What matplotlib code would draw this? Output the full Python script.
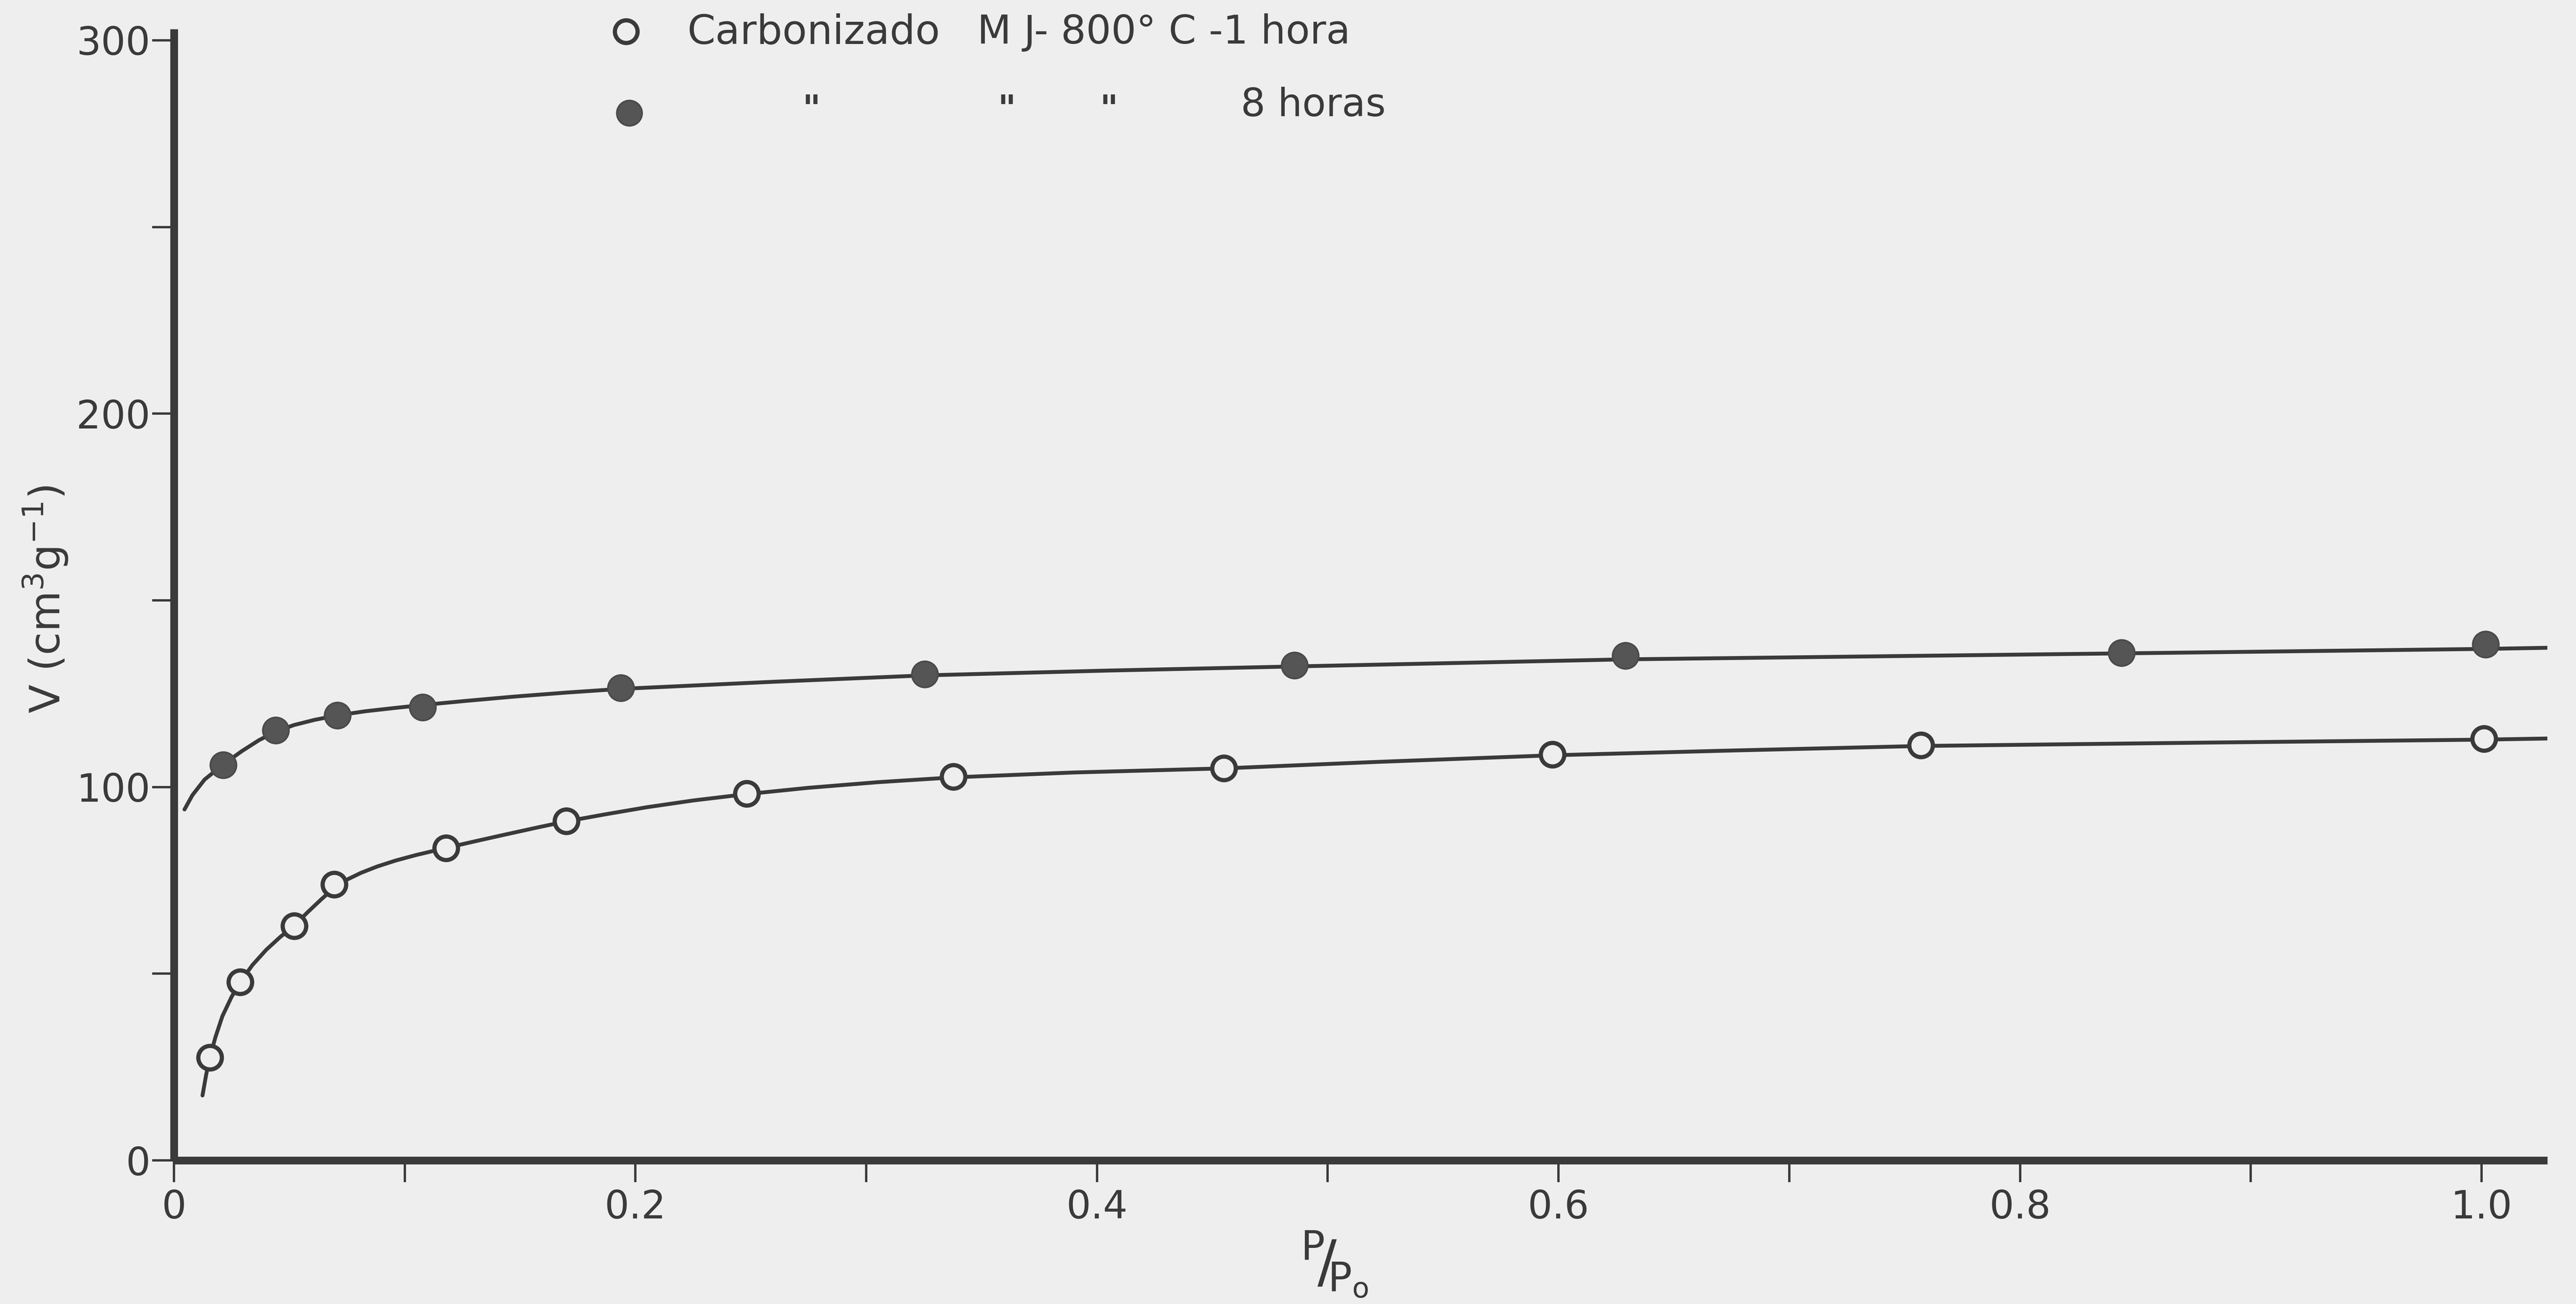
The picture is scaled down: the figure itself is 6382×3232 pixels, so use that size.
import matplotlib
matplotlib.use("Agg")
import matplotlib.pyplot as plt
from matplotlib.ticker import FixedLocator

# open circles: carbonizado MJ-800 C, 1 hora
open_x = [0.0156, 0.0288, 0.0521, 0.0695, 0.118, 0.170, 0.2483, 0.3377, 0.455, 0.5974, 0.757, 1.001]
open_y = [27.6, 47.8, 62.8, 73.9, 83.6, 90.9, 98.2, 102.8, 105.1, 108.7, 111.2, 112.9]

# filled circles: 8 horas
filled_x = [0.0213, 0.0441, 0.0709, 0.1077, 0.1937, 0.3254, 0.4855, 0.629, 0.8439, 1.0017]
filled_y = [105.9, 115.2, 119.2, 121.4, 126.6, 130.2, 132.6, 135.2, 135.9, 138.2]

# hand drawn curves
open_curve_x = [0.0124, 0.014, 0.0156, 0.018, 0.021, 0.025, 0.029, 0.034, 0.040, 0.046,
                0.052, 0.058, 0.064, 0.0695, 0.075, 0.081, 0.088, 0.096, 0.105, 0.118,
                0.130, 0.143, 0.157, 0.170, 0.187, 0.205, 0.225, 0.248, 0.275, 0.305,
                0.338, 0.39, 0.455, 0.52, 0.597, 0.676, 0.757, 0.88, 1.001, 1.0285]
open_curve_y = [17.4, 23.0, 27.6, 33.0, 38.6, 43.8, 48.0, 52.3, 56.4, 59.8,
                62.8, 66.5, 70.0, 73.0, 75.2, 77.0, 78.7, 80.3, 81.8, 83.7,
                85.4, 87.2, 89.1, 90.8, 92.7, 94.6, 96.4, 98.1, 99.8, 101.3,
                102.6, 103.9, 105.0, 106.7, 108.5, 109.8, 111.0, 111.9, 112.7, 113.0]

filled_curve_x = [0.0046, 0.008, 0.0133, 0.0213, 0.0294, 0.037, 0.0441, 0.052, 0.061, 0.0709,
                  0.083, 0.096, 0.11, 0.127, 0.147, 0.17, 0.194, 0.26, 0.325, 0.405,
                  0.4855, 0.629, 0.8439, 1.0017, 1.0285]
filled_curve_y = [94.0, 97.8, 102.0, 106.0, 109.6, 112.6, 114.8, 116.6, 118.0, 119.2,
                  120.3, 121.2, 122.1, 123.1, 124.2, 125.3, 126.3, 128.2, 129.9, 131.2,
                  132.3, 134.2, 135.8, 137.0, 137.3]

x_ticks = [0, 0.2, 0.4, 0.6, 0.8, 1.0]
x_tick_labels = ["0", "0.2", "0.4", "0.6", "0.8", "1.0"]
x_minor = [0.1, 0.3, 0.5, 0.7, 0.9]
y_ticks = [0, 100, 200, 300]
y_tick_labels = ["0", "100", "200", "300"]
y_minor = [50, 150, 250]

INK = "#3a3a3a"
PAPER = "#eeeeee"
FILL = "#555555"

plt.rcParams["font.family"] = ["DejaVu Sans"]
plt.rcParams["mathtext.default"] = "regular"

fig = plt.figure(figsize=(6382 / 300, 3232 / 300), dpi=300, facecolor=PAPER)
ax = fig.add_axes([0.0675, 0.1101, 0.9214, 0.8676], facecolor=PAPER)

ax.plot(open_curve_x, open_curve_y, color=INK, lw=2.3, solid_capstyle="round",
        solid_joinstyle="round", zorder=2)
ax.plot(filled_curve_x, filled_curve_y, color=INK, lw=2.3, solid_capstyle="round",
        solid_joinstyle="round", zorder=2)
ax.plot(open_x, open_y, "o", ms=14, mfc=PAPER, mec=INK, mew=2.5, ls="none", zorder=3)
ax.plot(filled_x, filled_y, "o", ms=15.5, mfc=FILL, mec="#4a4a4a", mew=1, ls="none", zorder=3)

ax.set_xlim(0, 1.0285)
ax.set_ylim(0, 303)

for side in ("top", "right"):
    ax.spines[side].set_visible(False)
for side in ("left", "bottom"):
    ax.spines[side].set_linewidth(4.6)
    ax.spines[side].set_color(INK)
    ax.spines[side].set_capstyle("butt")

ax.xaxis.set_major_locator(FixedLocator(x_ticks))
ax.xaxis.set_minor_locator(FixedLocator(x_minor))
ax.set_xticklabels(x_tick_labels)
ax.yaxis.set_major_locator(FixedLocator(y_ticks))
ax.yaxis.set_minor_locator(FixedLocator(y_minor))
ax.set_yticklabels(y_tick_labels)
ax.tick_params(which="both", direction="out", length=13, width=1.4, color=INK,
               labelcolor=INK, labelsize=23)
ax.tick_params(axis="x", pad=4)
ax.tick_params(axis="y", pad=1)

ax.text(-0.054, 0.496, r"V (cm$^3$g$^{-1}$)", transform=ax.transAxes, rotation=90,
        ha="center", va="center", fontsize=25, color=INK)
ax.text(0.489, -0.092, r"$^{P}\!/\!_{P_o}$", transform=ax.transAxes,
        ha="center", va="center", fontsize=34, color=INK)

# legend, drawn by hand like the original
ax.plot([0.1905], [0.998], "o", ms=13.5, mfc=PAPER, mec=INK, mew=2.5, transform=ax.transAxes, clip_on=False)
ax.plot([0.1918], [0.926], "o", ms=15, mfc=FILL, mec="#4a4a4a", mew=1, transform=ax.transAxes, clip_on=False)
ax.text(0.2163, 0.997, "Carbonizado", transform=ax.transAxes, ha="left", va="center",
        fontsize=24, color=INK)
ax.text(0.3385, 0.997, "M J- 800° C -1 hora", transform=ax.transAxes, ha="left", va="center",
        fontsize=23.5, color=INK)
for xd in (0.2687, 0.3510, 0.3940):
    ax.text(xd, 0.943, '"', transform=ax.transAxes, ha="center", va="top", fontsize=21,
            fontweight="bold", color=INK)
ax.text(0.4495, 0.9323, "8 horas", transform=ax.transAxes, ha="left", va="center",
        fontsize=23, color=INK)

fig.savefig("out.png", dpi=300, facecolor=PAPER)
